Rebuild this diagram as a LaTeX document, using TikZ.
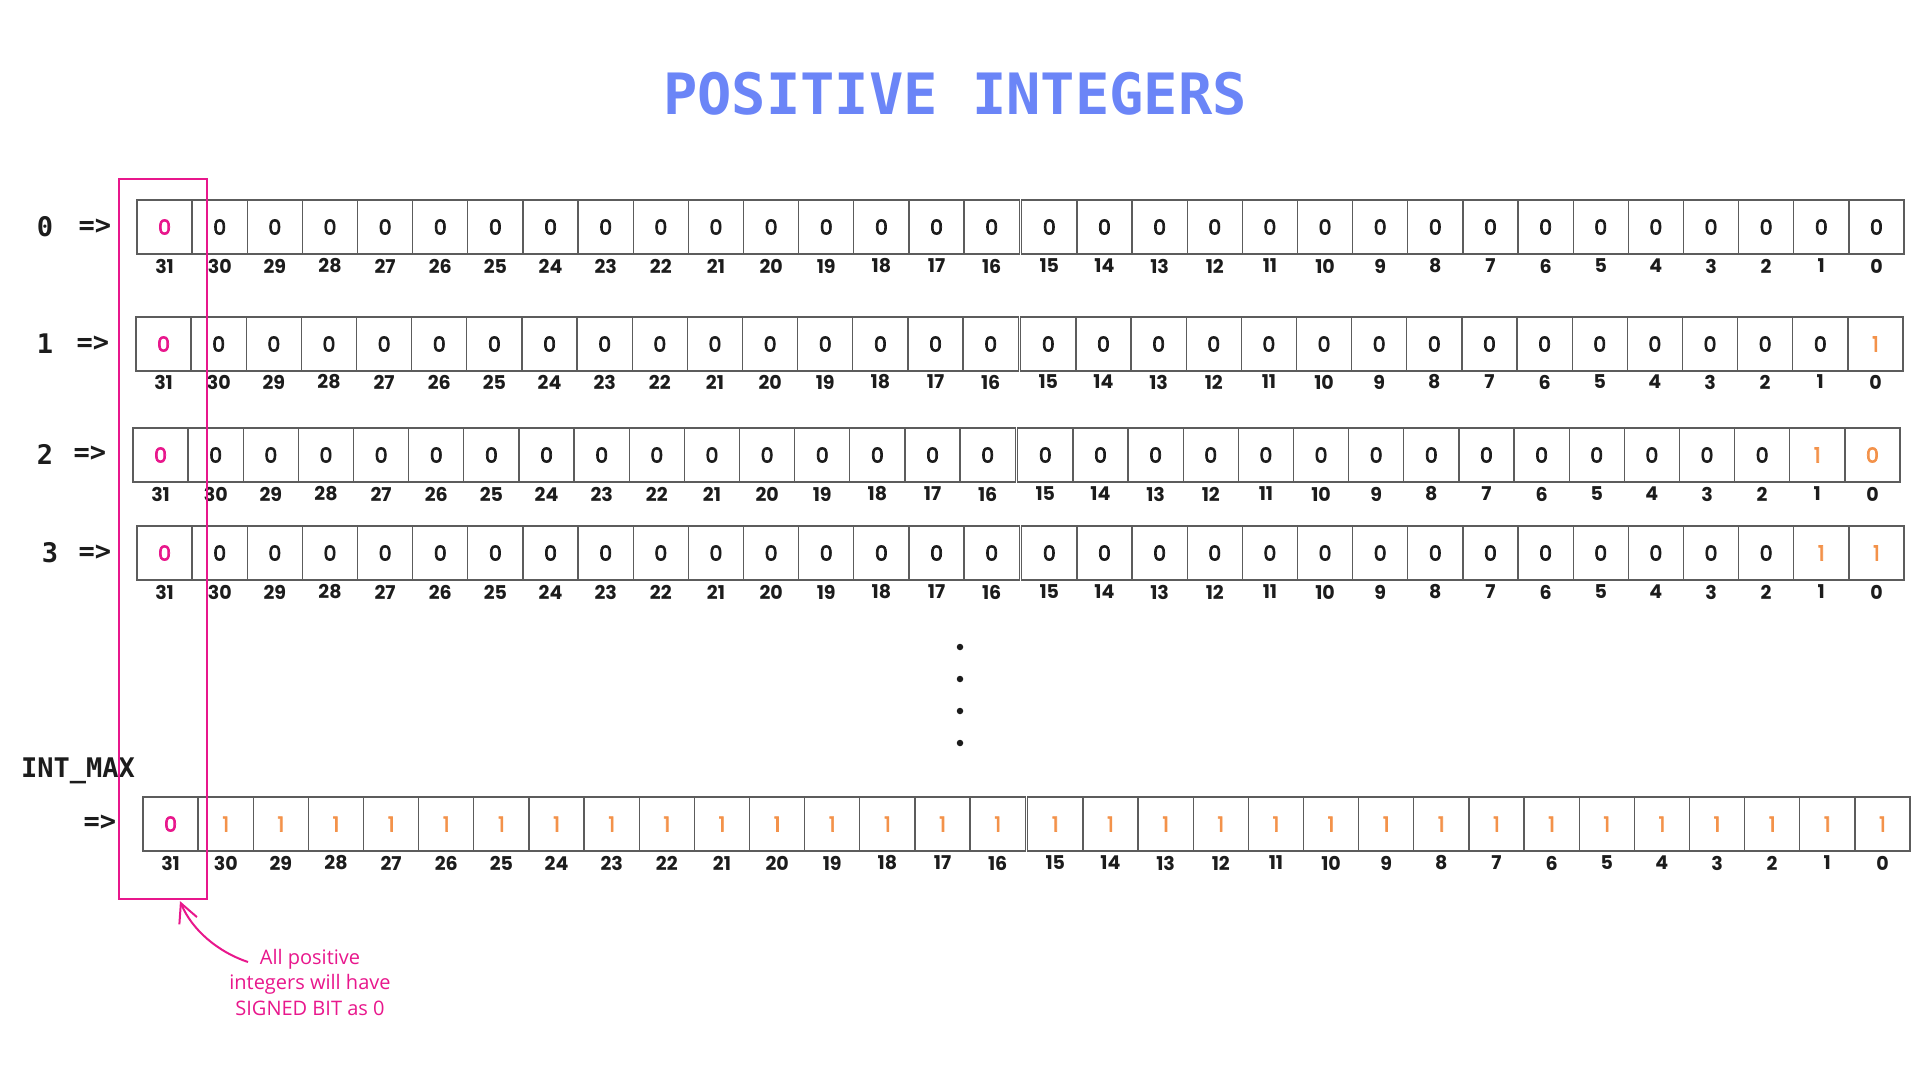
\documentclass[tikz,border=0pt]{standalone}
\usepackage{fontspec}
\setmainfont{Poppins}
\newfontfamily\cellfont{Poppins}[FakeBold=3.5]
\newfontfamily\idxfont{Poppins}
\newfontfamily\monob{DejaVu Sans Mono}
\newfontfamily\notefont{Open Sans}
\usetikzlibrary{arrows.meta}
\definecolor{pinkc}{HTML}{E8178C}
\definecolor{orangec}{HTML}{F3924A}
\definecolor{inkc}{HTML}{1C1C1C}
\definecolor{bluec}{HTML}{6B85F7}
\definecolor{gridc}{HTML}{5C5C5C}
\tikzset{
  cell/.style={draw=gridc, line width=1.3pt, inner sep=0pt, font=\fontsize{20.5}{22}\selectfont\cellfont},
  idx/.style={inner sep=0pt, text=inkc, font=\fontsize{19}{21}\selectfont\idxfont\bfseries},
  rowlbl/.style={inner sep=0pt, text=inkc, font=\fontsize{27}{30}\selectfont\monob\bfseries},
  titletext/.style={inner sep=0pt, text=bluec, font=\fontsize{57}{60}\selectfont\monob\bfseries},
  signbox/.style={draw=pinkc, line width=2.2pt, inner sep=0pt, minimum width=88pt, minimum height=720pt},
  notetext/.style={inner sep=0pt, text=pinkc, align=center, font=\fontsize{20}{25.5}\selectfont\notefont},
  dotc/.style={fill=inkc, circle, inner sep=0pt, minimum size=6.5pt}
}
\begin{document}
\begin{tikzpicture}[x=1pt, y=-1pt]
\useasboundingbox (0,0) rectangle (1920,1080);
\node[titletext] (title) at (955,94) {POSITIVE INTEGERS};

\foreach \r/\L/\R/\T/\Y/\nb in {0/137/1904/200/266/0, 1/136/1903/317/382/1, 2/133/1900/428/494/2, 3/137/1904/526/592/2, 4/143/1910/797/863/31} {
  \pgfmathsetmacro\w{(\R-\L-2.5)/32}
  \foreach \b in {0,...,31} {
    \pgfmathtruncatemacro\k{31-\b}
    \pgfmathsetmacro\xc{\L+(\k+0.5)*\w+(\k>15 ? 2.5 : 0)}
    \pgfmathsetmacro\yc{\T+27}
    \ifnum\b=31 \def\col{pinkc}\def\v{0}\else
      \ifnum\b<\nb \def\col{orangec}\else \def\col{inkc}\fi
      \ifnum\r=4 \def\v{1}\else
        \ifnum\b<2 \pgfmathtruncatemacro\v{mod(floor(\r/(2^\b)),2)}\else \def\v{0}\fi
      \fi
    \fi
    \node[cell, text=\col, minimum width=\w pt, minimum height=54pt] (c\r-\b) at (\xc,\yc) {\v};
    \node[idx] (i\r-\b) at (\xc,\Y) {\b};
  }
}

\node[rowlbl] (n0) at (45,227) {0};
\node[rowlbl] (a0) at (95,227) {=>};
\node[rowlbl] (n1) at (45,344) {1};
\node[rowlbl] (a1) at (93,344) {=>};
\node[rowlbl] (n2) at (45,454) {2};
\node[rowlbl] (a2) at (90,454) {=>};
\node[rowlbl] (n3) at (50,553) {3};
\node[rowlbl] (a3) at (95,553) {=>};
\node[rowlbl] (nmax) at (78,771) {INT\_MAX};
\node[rowlbl] (amax) at (100,823) {=>};

\node[dotc] (d1) at (960,647) {};
\node[dotc] (d2) at (960,679) {};
\node[dotc] (d3) at (960,711) {};
\node[dotc] (d4) at (960,743) {};

\node[signbox] (sb) at (163,539) {};

\node[notetext] (note) at (310,982) {All positive\\integers will have\\SIGNED BIT as 0};
\coordinate (as) at (248,962);
\draw[pinkc, line width=2pt, -{Straight Barb[length=19pt, width=19pt, line width=2pt]}]
  (as) .. controls (218,952) and (192,930) .. ([xshift=17pt, yshift=-1pt]sb.south);
\end{tikzpicture}
\end{document}
